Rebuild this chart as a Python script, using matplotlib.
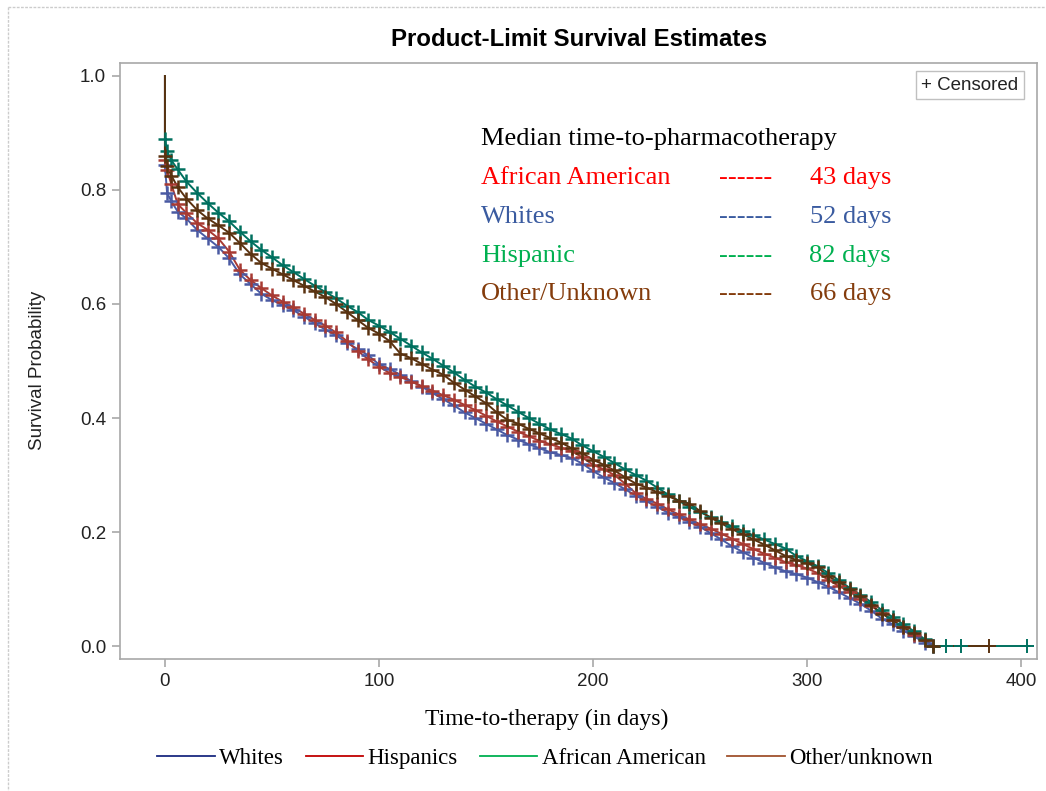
import numpy as np
import matplotlib
matplotlib.use("Agg")
import matplotlib.pyplot as plt
from matplotlib.lines import Line2D

# ---------------- data ----------------
days = [0, 0, 1, 3, 6, 10, 15, 20, 25, 30, 35, 40, 45, 50, 55, 60, 65, 70, 75, 80,
        85, 90, 95, 100, 105, 110, 115, 120, 125, 130, 135, 140, 145, 150, 155, 160,
        165, 170, 175, 180, 185, 190, 195, 200, 205, 210, 215, 220, 225, 230, 235,
        240, 245, 250, 255, 260, 265, 270, 275, 280, 285, 290, 295, 300, 305, 310,
        315, 320, 325, 330, 335, 340, 345, 350, 355, 359]

surv_whites = [1.0, 0.843, 0.795, 0.78, 0.762, 0.75, 0.73, 0.715, 0.70, 0.68, 0.652,
               0.635, 0.618, 0.607, 0.598, 0.589, 0.578, 0.566, 0.555, 0.545, 0.532,
               0.521, 0.51, 0.494, 0.486, 0.476, 0.465, 0.455, 0.444, 0.433, 0.422,
               0.41, 0.40, 0.39, 0.38, 0.37, 0.362, 0.354, 0.347, 0.34, 0.335, 0.33,
               0.32, 0.307, 0.296, 0.286, 0.275, 0.264, 0.254, 0.244, 0.234, 0.226,
               0.218, 0.209, 0.198, 0.187, 0.175, 0.165, 0.155, 0.146, 0.138, 0.131,
               0.126, 0.12, 0.112, 0.104, 0.094, 0.084, 0.074, 0.062, 0.048, 0.038,
               0.027, 0.017, 0.006, 0.0]

surv_hispanics = [1.0, 0.853, 0.835, 0.81, 0.775, 0.76, 0.742, 0.73, 0.715, 0.692, 0.66,
                  0.642, 0.628, 0.615, 0.604, 0.594, 0.583, 0.572, 0.562, 0.55, 0.535,
                  0.518, 0.503, 0.49, 0.479, 0.472, 0.464, 0.456, 0.448, 0.44, 0.432,
                  0.423, 0.414, 0.404, 0.394, 0.385, 0.376, 0.368, 0.36, 0.354, 0.348,
                  0.342, 0.331, 0.318, 0.31, 0.30, 0.285, 0.268, 0.258, 0.25, 0.24,
                  0.231, 0.222, 0.214, 0.206, 0.197, 0.188, 0.179, 0.17, 0.162, 0.155,
                  0.147, 0.142, 0.136, 0.128, 0.116, 0.105, 0.095, 0.083, 0.07, 0.058,
                  0.045, 0.033, 0.02, 0.01, 0.0]

surv_afam = [1.0, 0.889, 0.868, 0.852, 0.836, 0.815, 0.795, 0.777, 0.76, 0.745, 0.727,
             0.71, 0.695, 0.682, 0.668, 0.656, 0.644, 0.632, 0.621, 0.61, 0.597, 0.586,
             0.572, 0.562, 0.551, 0.539, 0.527, 0.515, 0.504, 0.492, 0.48, 0.467, 0.455,
             0.445, 0.433, 0.422, 0.411, 0.40, 0.39, 0.38, 0.372, 0.364, 0.352, 0.342,
             0.332, 0.321, 0.31, 0.30, 0.29, 0.278, 0.266, 0.255, 0.244, 0.235, 0.226,
             0.218, 0.21, 0.202, 0.194, 0.187, 0.179, 0.171, 0.158, 0.149, 0.14, 0.128,
             0.115, 0.102, 0.09, 0.077, 0.063, 0.051, 0.038, 0.026, 0.012, 0.0]

surv_other = [1.0, 0.86, 0.842, 0.825, 0.805, 0.785, 0.765, 0.75, 0.738, 0.725, 0.707,
              0.688, 0.672, 0.662, 0.652, 0.642, 0.632, 0.622, 0.612, 0.60, 0.586, 0.572,
              0.558, 0.548, 0.535, 0.513, 0.505, 0.495, 0.485, 0.476, 0.462, 0.45, 0.438,
              0.426, 0.41, 0.397, 0.39, 0.381, 0.373, 0.365, 0.357, 0.347, 0.338, 0.327,
              0.318, 0.308, 0.296, 0.285, 0.278, 0.27, 0.263, 0.255, 0.25, 0.237, 0.225,
              0.215, 0.205, 0.196, 0.187, 0.178, 0.168, 0.158, 0.151, 0.145, 0.138, 0.122,
              0.112, 0.10, 0.087, 0.072, 0.057, 0.045, 0.033, 0.022, 0.01, 0.0]

last_day = {"Whites": 360, "Hispanics": 360, "African American": 404, "Other/unknown": 387}
tail_censor = {"Whites": [], "Hispanics": [], "African American": [365, 372, 403],
               "Other/unknown": [385]}

groups = ["Whites", "Hispanics", "African American", "Other/unknown"]
survs = [surv_whites, surv_hispanics, surv_afam, surv_other]
curve_colors = ["#4a5aa3", "#a83a32", "#00705f", "#5a3210"]
legend_colors = ["#1a2a80", "#c00000", "#00b050", "#a0522d"]

median_labels = ["African American", "Whites", "Hispanic", "Other/Unknown"]
median_days = ["43 days", "52 days", "82 days", "66 days"]
median_colors = ["#ff0000", "#3a5ba0", "#00b050", "#843c0c"]

# ---------------- figure ----------------
W, H = 1046, 791
fig = plt.figure(figsize=(W / 100, H / 100), dpi=100)
fx = lambda px: px / W
fy = lambda py: 1 - py / H

ax = fig.add_axes([fx(120), fy(659), fx(1037) - fx(120), fy(63) - fy(659)])
ax.set_xlim(-21, 407.5)
ax.set_ylim(-0.0228, 1.0228)

for g, s, c in zip(groups, survs, curve_colors):
    t = np.array(days, dtype=float)
    y = np.array(s, dtype=float)
    tt = np.append(t, last_day[g])
    yy = np.append(y, y[-1])
    ax.plot(tt, yy, color=c, lw=1.4, zorder=3)
    # censor marks at the data points
    ax.plot(t[1:], y[1:], ls="none", marker="+", ms=10, mew=1.8, color=c, zorder=4)
    if tail_censor[g]:
        ax.plot(tail_censor[g], [0] * len(tail_censor[g]), ls="none", marker="+",
                ms=10, mew=1.4, color=c, zorder=4)

for sp in ax.spines.values():
    sp.set_color("#a8a8a8")
    sp.set_linewidth(1.2)
ax.set_xticks([0, 100, 200, 300, 400])
ax.set_yticks([0.0, 0.2, 0.4, 0.6, 0.8, 1.0])
ax.set_yticklabels(["0.0", "0.2", "0.4", "0.6", "0.8", "1.0"])
ax.tick_params(direction="out", length=6, width=1.2, color="#a8a8a8",
               labelsize=13.5, labelcolor="#222222", pad=4)
for lab in ax.get_xticklabels() + ax.get_yticklabels():
    lab.set_family("Liberation Sans")

# titles / labels
fig.text(fx(579), fy(40), "Product-Limit Survival Estimates", ha="center", va="center",
         fontsize=17.3, fontweight="bold", family="Liberation Sans")
fig.text(fx(38), fy(370), "Survival Probability", rotation=90, ha="center", va="center",
         fontsize=13.5, family="Liberation Sans", color="#222222")
fig.text(fx(547), fy(719), "Time-to-therapy (in days)", ha="center", va="center",
         fontsize=17, family="Liberation Serif")

# censored box
fig.text(fx(970), fy(85), "+ Censored", ha="center", va="center", fontsize=13.5,
         family="Liberation Sans", color="#222222",
         bbox=dict(boxstyle="square,pad=0.3", fc="white", ec="#c0c0c0", lw=1))

# median annotation
fig.text(fx(481), fy(139), "Median time-to-pharmacotherapy", ha="left", va="center",
         fontsize=19, family="Liberation Serif", color="black")
for i, (lab, d, c) in enumerate(zip(median_labels, median_days, median_colors)):
    yp = 178 + i * 38.8
    fig.text(fx(481), fy(yp), lab, ha="left", va="center", fontsize=19,
             family="Liberation Serif", color=c)
    fig.text(fx(719), fy(yp), "------", ha="left", va="center", fontsize=19,
             family="Liberation Serif", color=c)
    fig.text(fx(891), fy(yp), d, ha="right", va="center", fontsize=19,
             family="Liberation Serif", color=c)

# bottom legend
handles = [Line2D([0], [0], color=c, lw=1.3) for c in legend_colors]
leg = fig.legend(handles, groups, loc="center", bbox_to_anchor=(fx(545), fy(758)),
                 ncol=4, frameon=False, handlelength=2.5, handletextpad=0.2,
                 columnspacing=0.95, prop={"family": "Liberation Serif", "size": 16.5})

# dashed outer border (left and top)
fig.add_artist(Line2D([fx(8), fx(8)], [fy(7), 0], color="#cccccc", lw=1,
                      ls=(0, (2, 1)), transform=fig.transFigure))
fig.add_artist(Line2D([fx(8), 1], [fy(7), fy(7)], color="#cccccc", lw=1,
                      ls=(0, (2, 1)), transform=fig.transFigure))

fig.savefig("out.png", dpi=100)
